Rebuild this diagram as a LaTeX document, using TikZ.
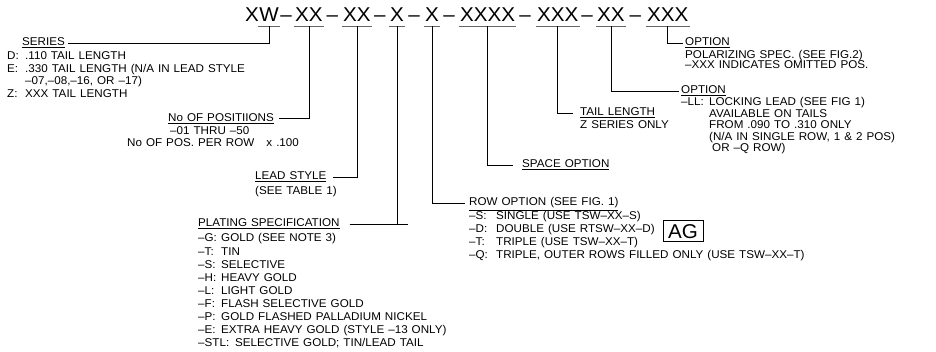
\documentclass[tikz,border=0pt]{standalone}
\usepackage{fontspec}
\setmainfont{Liberation Sans}[FakeStretch=1.03]
\newcommand\mklab[2]{\makebox[#1][l]{#2}}
\newcommand\smallfnt{\fontsize{11.3}{13}\selectfont\spaceskip=4pt plus 1pt\relax}
\newcommand\codefnt{\fontsize{20}{22}\selectfont}
\begin{document}
\begin{tikzpicture}[x=1pt,y=-1pt,
  txt/.style={font=\smallfnt, inner sep=0pt, anchor=base west},
  codetxt/.style={font=\codefnt, inner xsep=0pt, inner ysep=4pt, anchor=base west},
  dashtxt/.style={font=\codefnt, inner sep=0pt, anchor=base},
  conn/.style={line width=0.8pt},
  uline/.style={line width=1.3pt, black!60}]
\useasboundingbox (0,0) rectangle (936,352);

% ---- part number code
\node[codetxt] (cx) at (245,22) {X};
\node[codetxt] (cw) at (cx.base east) {W};
\node[codetxt] (g1) at (295,22) {XX};
\node[codetxt] (g2) at (343,22) {XX};
\node[codetxt] (g3) at (390,22) {X};
\node[codetxt] (g4) at (425,22) {X};
\node[codetxt] (g5) at (460,22) {XXXX};
\node[codetxt] (g6) at (537,22) {XXX};
\node[codetxt] (g7) at (597,22) {XX};
\node[codetxt] (g8) at (647,22) {XXX};
\node[dashtxt] (d1) at (286,22) {–};
\node[dashtxt] (d2) at (332.3,22) {–};
\node[dashtxt] (d3) at (379.9,22) {–};
\node[dashtxt] (d4) at (414.2,22) {–};
\node[dashtxt] (d5) at (449.2,22) {–};
\node[dashtxt] (d6) at (525.2,22) {–};
\node[dashtxt] (d7) at (587,22) {–};
\node[dashtxt] (d8) at (635.4,22) {–};
\foreach \g in {cw,g1,g2,g3,g4,g5,g6,g7,g8}
  \draw[uline] ([xshift=-1pt]\g.south west) -- ([xshift=1pt]\g.south east);

% ---- SERIES
\node[txt] (series) at (22,46) {\underline{SERIES}};
\node[txt] (s1) at (7,60) {\mklab{18pt}{D:}.110 TAIL LENGTH};
\node[txt] (s2) at (7,72.5) {\mklab{18pt}{E:}.330 TAIL LENGTH (N/A IN LEAD STYLE};
\node[txt] (s3) at (25,85) {–07,–08,–16, OR –17)};
\node[txt] (s4) at (7,97.5) {\mklab{18pt}{Z:}XXX TAIL LENGTH};

% ---- POSITIONS
\node[txt] (pos) at (168,121.5) {\underline{No OF POSITIIONS}};
\node[txt] (p1) at (170,134.5) {–01\hspace{4pt}THRU\hspace{4pt}–50};
\node[txt] (p2) at (127,147) {No OF POS. PER ROW\hspace{12pt}x .100};

% ---- LEAD STYLE
\node[txt] (lead) at (255,180) {\underline{LEAD STYLE}};
\node[txt] (l1) at (255,194.5) {(SEE TABLE 1)};

% ---- PLATING
\node[txt] (plat) at (198,227) {\underline{PLATING SPECIFICATION}};
\node[txt] (pl1) at (198,242) {\mklab{23pt}{–G:}GOLD (SEE NOTE 3)};
\node[txt] (pl2) at (198,255.1) {\mklab{23pt}{–T:}TIN};
\node[txt] (pl3) at (198,268.2) {\mklab{23pt}{–S:}SELECTIVE};
\node[txt] (pl4) at (198,281.3) {\mklab{23pt}{–H:}HEAVY GOLD};
\node[txt] (pl5) at (198,294.4) {\mklab{23pt}{–L:}LIGHT GOLD};
\node[txt] (pl6) at (198,307.5) {\mklab{23pt}{–F:}FLASH SELECTIVE GOLD};
\node[txt] (pl7) at (198,320.6) {\mklab{23pt}{–P:}GOLD FLASHED PALLADIUM NICKEL};
\node[txt] (pl8) at (198,333.7) {\mklab{23pt}{–E:}EXTRA HEAVY GOLD (STYLE –13 ONLY)};
\node[txt] (pl9) at (198,346.8) {\mklab{37pt}{–STL:}SELECTIVE GOLD; TIN/LEAD TAIL};

% ---- ROW OPTION
\node[txt] (row) at (469,206) {\underline{ROW OPTION (SEE FIG. 1)}};
\node[txt] (r1) at (469,220) {\mklab{27pt}{–S:}SINGLE (USE TSW–XX–S)};
\node[txt] (r2) at (469,233) {\mklab{27pt}{–D:}DOUBLE (USE RTSW–XX–D)};
\node[txt] (r3) at (469,246) {\mklab{27pt}{–T:}TRIPLE (USE TSW–XX–T)};
\node[txt] (r4) at (469,259) {\mklab{27pt}{–Q:}TRIPLE, OUTER ROWS FILLED ONLY (USE TSW–XX–T)};
\node[draw, line width=1pt, font=\codefnt, minimum width=40pt,
      minimum height=21pt, inner sep=0pt] (ag) at (683,231.5) {AG};

% ---- SPACE / TAIL
\node[txt] (space) at (522,168) {\underline{SPACE OPTION}};
\node[txt] (tail) at (580,116) {\underline{TAIL LENGTH}};
\node[txt] (t1) at (580,129) {Z SERIES ONLY};

% ---- OPTION (LL)
\node[txt] (optb) at (681,94) {\underline{OPTION}};
\node[txt] (o1) at (681,106) {\mklab{28pt}{–LL:}LOCKING LEAD (SEE FIG 1)};
\node[txt] (o2) at (709,117.5) {AVAILABLE ON TAILS};
\node[txt] (o3) at (709,129) {FROM .090 TO .310 ONLY};
\node[txt] (o4) at (709,140.5) {(N/A IN SINGLE ROW, 1 \& 2 POS)};
\node[txt] (o5) at (712,152) {OR –Q ROW)};

% ---- OPTION (polarizing)
\node[txt] (opta) at (685,46) {\underline{OPTION}};
\node[txt] (a1) at (685,58.5) {POLARIZING SPEC. (SEE FIG.2)};
\node[txt] (a2) at (685,68.5) {–XXX INDICATES OMITTED POS.};

% ---- connectors
\draw[conn] (cw.south) |- ([xshift=3pt]series.mid east);
\draw[conn] (g1.south) |- ([xshift=5pt]pos.mid east);
\draw[conn] (g2.south) |- ([xshift=6pt]lead.mid east);
\coordinate (pj) at (g3.south |- plat.mid east);
\draw[conn] (g3.south) -- (pj);
\draw[conn] ([xshift=10pt]plat.mid east) -- ([xshift=11pt]pj);
\draw[conn] (g4.south) |- ([xshift=-4pt]row.mid west);
\draw[conn] (g5.south) |- ([xshift=-9pt]space.mid west);
\draw[conn] (g6.south) |- ([xshift=-7pt]tail.mid west);
\draw[conn] (g7.south) |- ([xshift=-2pt]optb.mid west);
\draw[conn] (g8.south) |- ([xshift=-2pt]opta.mid west);
\end{tikzpicture}
\end{document}
